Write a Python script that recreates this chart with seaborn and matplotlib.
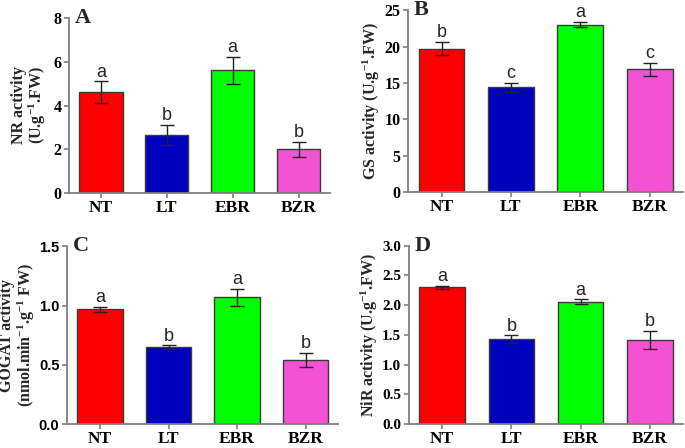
import matplotlib
matplotlib.use('Agg')
import matplotlib.pyplot as plt
import seaborn as sns
import pandas as pd

groups = ['NT', 'LT', 'EBR', 'BZR']
colors = ['#FF0000', '#0000BF', '#00FF00', '#F452D4']

nr_mean = [4.6, 2.65, 5.6, 2.0]
nr_err = [0.5, 0.45, 0.6, 0.35]
nr_sig = ['a', 'b', 'a', 'b']

gs_mean = [19.7, 14.4, 23.0, 16.9]
gs_err = [0.9, 0.6, 0.35, 0.9]
gs_sig = ['b', 'c', 'a', 'c']

gogat_mean = [0.97, 0.65, 1.07, 0.545]
gogat_err = [0.02, 0.015, 0.07, 0.06]
gogat_sig = ['a', 'b', 'a', 'b']

nir_mean = [2.30, 1.43, 2.06, 1.42]
nir_err = [0.025, 0.06, 0.035, 0.15]
nir_sig = ['a', 'b', 'a', 'b']

sns.set_style('ticks')
plt.rcParams['font.family'] = ['Liberation Serif', 'DejaVu Serif']
plt.rcParams['font.weight'] = 'bold'
plt.rcParams['mathtext.fontset'] = 'custom'
plt.rcParams['mathtext.rm'] = 'Liberation Serif:bold'
plt.rcParams['mathtext.bf'] = 'Liberation Serif:bold'
plt.rcParams['mathtext.it'] = 'Liberation Serif:bold'
plt.rcParams['mathtext.default'] = 'rm'

fig = plt.figure(figsize=(6.85, 4.48), dpi=100)

# letter, means, errors, significance, ylabel, ymax, step, axes rect, tick font, fmt, ytick size, label x
panels = [
    ('A', nr_mean, nr_err, nr_sig, 'NR activity\n(U.g$^{-1}$.FW)', 8, 2,
     [0.101, 0.569, 0.381, 0.391], 'serif', '%d', 11.5, -0.08),
    ('B', gs_mean, gs_err, gs_sig, 'GS activity (U.g$^{-1}$.FW)', 25, 5,
     [0.596, 0.571, 0.401, 0.406], 'serif', '%d', 11.5, -0.095),
    ('C', gogat_mean, gogat_err, gogat_sig, 'GOGAT activity\n(nmol.min$^{-1}$.g$^{-1}$ FW)', 1.5, 0.5,
     [0.098, 0.053, 0.396, 0.397], 'sans', '%.1f', 10.5, -0.112),
    ('D', nir_mean, nir_err, nir_sig, 'NiR activity (U.g$^{-1}$.FW)', 3.0, 0.5,
     [0.597, 0.053, 0.400, 0.399], 'serif', '%.1f', 11, -0.105),
]

spine_col = '#7f7f7f'

for letter, mean, err, sig, ylabel, ymax, step, pos, tickfont, fmt, ysize, labx in panels:
    ax = fig.add_axes(pos)
    df = pd.DataFrame({'group': groups, 'value': mean})
    sns.barplot(data=df, x='group', y='value', hue='group', palette=colors,
                saturation=1, legend=False, width=0.66, edgecolor='#3a3a3a',
                linewidth=1.0, ax=ax)
    ax.errorbar(range(4), mean, yerr=err, fmt='none', ecolor='#222222',
                elinewidth=1.0, capsize=5, capthick=1.0)
    for i in range(4):
        ax.text(i, mean[i] + err[i] + ymax * 0.005, sig[i], ha='center', va='bottom',
                fontsize=13, fontweight='normal', family=['Liberation Sans'])
    ax.set_xlim(-0.48, 3.48)
    ax.set_ylim(0, ymax)
    ticks = [round(step * k, 2) for k in range(int(round(ymax / step)) + 1)]
    ax.set_yticks(ticks)
    ax.set_yticklabels([fmt % t for t in ticks])
    ax.set_xlabel('')
    ax.set_ylabel(ylabel, fontsize=11.5, fontweight='bold', linespacing=1.0)
    ax.yaxis.set_label_coords(labx, 0.5)
    sns.despine(ax=ax)
    for s in ['left', 'bottom']:
        ax.spines[s].set_color(spine_col)
        ax.spines[s].set_linewidth(1.3)
    ax.tick_params(axis='both', colors=spine_col, length=3.5, width=1.2, pad=2)
    ax.tick_params(axis='x', pad=1.5)
    for lab in ax.get_xticklabels():
        lab.set_color('black')
        lab.set_fontsize(12.5)
        lab.set_fontweight('bold')
    for lab in ax.get_yticklabels():
        lab.set_color('black')
        lab.set_fontsize(ysize)
        lab.set_fontweight('bold')
        if tickfont == 'sans':
            lab.set_family('Liberation Sans')
    ax.text(0.02, 1.0, letter, transform=ax.transAxes, fontsize=16,
            fontweight='bold', va='center', ha='left')

fig.savefig('out.png', dpi=100)
